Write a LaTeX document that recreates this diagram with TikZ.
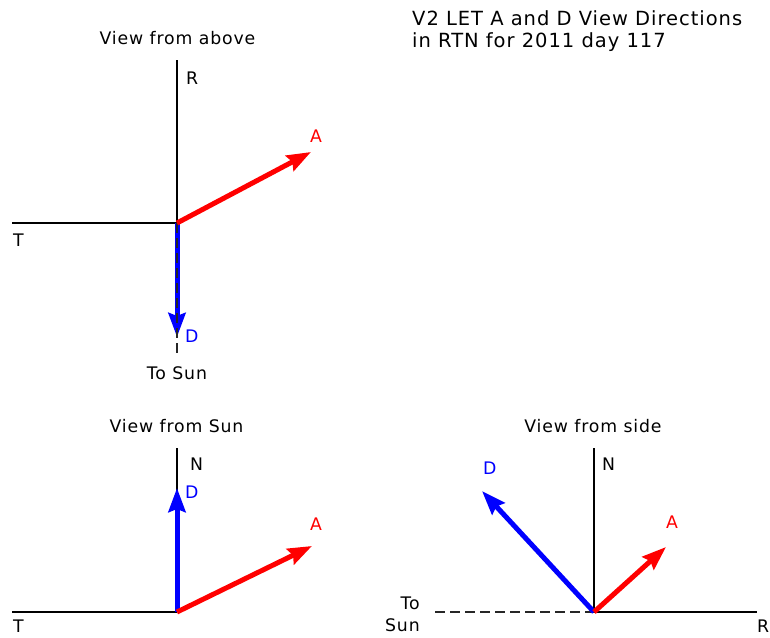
\documentclass[tikz,border=0pt]{standalone}
\usepackage{fontspec}
\setmainfont{DejaVu Sans}[LetterSpace=5]
\usetikzlibrary{arrows.meta}

\tikzset{
  lbl/.style={inner sep=0pt, font=\fontsize{17.3}{22}\selectfont},
  ttl/.style={inner sep=0pt, font=\fontsize{19.5}{22}\selectfont, anchor=base west},
  axis/.style={line width=1.3pt, black},
  vecA/.style={line width=5pt, red, -{Stealth[length=24pt, width=17pt, inset=3pt]}},
  vecD/.style={line width=5pt, blue, -{Stealth[length=24pt, width=17pt, inset=3pt]}},
  sunline/.style={line width=1.5pt, black!85, dash pattern=on 10pt off 5pt}
}

\begin{document}
\begin{tikzpicture}[x=1pt, y=-1pt]
   \useasboundingbox (0,0) rectangle (770,637);

   % title
   \node (title1) [ttl] at (412,25) {V2 LET A and D View Directions};
   \node (title2) [ttl] at (412,47) {in RTN for 2011 day 117};

   % view from above
   \coordinate (O1) at (177,223);
   \coordinate (R1) at (177,60);
   \coordinate (T1) at (12,223);
   \coordinate (A1) at (311,152);
   \coordinate (D1) at (177,337);
   \coordinate (S1) at (177,355);
   \node (above) [lbl, anchor=base] at (177.5,44) {View from above};
   \draw[axis] (O1) -- (R1);
   \draw[axis] (O1) -- (T1);
   \draw[vecD] (O1) -- (D1);
   \draw[sunline] (O1) -- (S1);
   \draw[vecA] (O1) -- (A1);
   \node (labR1) [lbl, anchor=base west] at (186,84) {R};
   \node (labT1) [lbl, anchor=base west] at (13,246) {T};
   \node (labA1) [lbl, anchor=base west, red] at (310,142) {A};
   \node (labD1) [lbl, anchor=base west, blue] at (185,342) {D};
   \node (sun1) [lbl, anchor=base] at (177,379) {To Sun};

   % view from sun
   \coordinate (O2) at (177,612);
   \coordinate (N2) at (177,448);
   \coordinate (T2) at (12,612);
   \coordinate (A2) at (312,546);
   \coordinate (D2) at (177,488);
   \node (fromsun) [lbl, anchor=base] at (176.5,432) {View from Sun};
   \draw[axis] (O2) -- (N2);
   \draw[axis] (O2) -- (T2);
   \draw[vecD] (O2) -- (D2);
   \draw[vecA] (O2) -- (A2);
   \node (labN2) [lbl, anchor=base west] at (190,470) {N};
   \node (labT2) [lbl, anchor=base west] at (13,632) {T};
   \node (labA2) [lbl, anchor=base west, red] at (310,530) {A};
   \node (labD2) [lbl, anchor=base west, blue] at (185,498) {D};

   % view from side
   \coordinate (O3) at (594,612);
   \coordinate (N3) at (594,448);
   \coordinate (R3) at (757,612);
   \coordinate (S3) at (435,612);
   \coordinate (A3) at (666,547);
   \coordinate (D3) at (482,491);
   \node (fromside) [lbl, anchor=base] at (593,432) {View from side};
   \draw[axis] (O3) -- (N3);
   \draw[axis] (O3) -- (R3);
   \draw[sunline] (S3) -- (O3);
   \draw[vecD] (O3) -- (D3);
   \draw[vecA] (O3) -- (A3);
   \node (labN3) [lbl, anchor=base west] at (602,470) {N};
   \node (labR3) [lbl, anchor=base west] at (757,632) {R};
   \node (labA3) [lbl, anchor=base west, red] at (666,528) {A};
   \node (labD3) [lbl, anchor=base west, blue] at (483,474) {D};
   \node (sun3) [lbl, anchor=north east, align=right] at (420,597) {To\\Sun};
\end{tikzpicture}
\end{document}
